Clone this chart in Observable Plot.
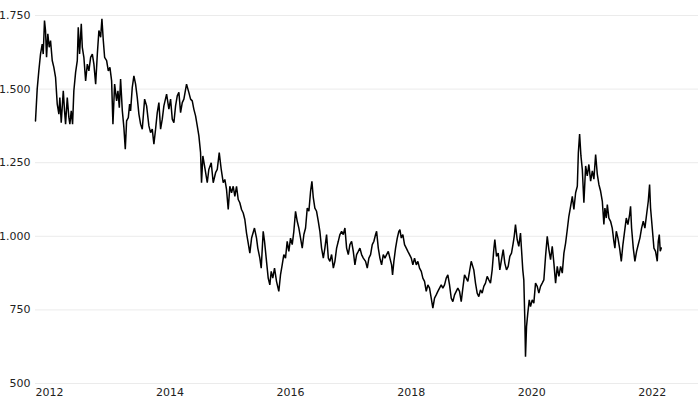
<!DOCTYPE html>
<html>
<head>
<meta charset="utf-8">
<script src="https://cdn.jsdelivr.net/npm/d3@7"></script>
<script src="https://cdn.jsdelivr.net/npm/@observablehq/plot@0.6"></script>
<style>
  html, body { margin: 0; padding: 0; background: #fff; }
  #chart { width: 700px; height: 400px; }
</style>
</head>
<body>
<div id="chart"></div>
<script>
// Decimal years
const years = [
2012.000,2012.028,2012.055,2012.083,2012.111,2012.128,2012.149,2012.166,2012.183,2012.204,
2012.227,2012.249,2012.277,2012.304,2012.332,2012.360,2012.387,2012.403,2012.426,2012.460,
2012.481,2012.498,2012.526,2012.553,2012.569,2012.592,2012.614,2012.635,2012.664,2012.692,
2012.708,2012.730,2012.758,2012.775,2012.801,2012.830,2012.858,2012.884,2012.913,2012.941,
2012.967,2012.996,2013.024,2013.050,2013.079,2013.100,2013.123,2013.145,2013.178,2013.206,
2013.233,2013.261,2013.283,2013.311,2013.344,2013.366,2013.389,2013.410,2013.439,2013.465,
2013.488,2013.510,2013.538,2013.560,2013.576,2013.604,2013.631,2013.659,2013.687,2013.714,
2013.742,2013.770,2013.809,2013.842,2013.880,2013.908,2013.936,2013.963,2013.991,2014.019,
2014.046,2014.074,2014.102,2014.129,2014.174,2014.212,2014.240,2014.268,2014.295,2014.323,
2014.351,2014.378,2014.406,2014.434,2014.461,2014.505,2014.543,2014.572,2014.600,2014.626,
2014.655,2014.683,2014.710,2014.738,2014.754,2014.776,2014.804,2014.849,2014.875,2014.915,
2014.948,2014.987,2015.015,2015.048,2015.081,2015.114,2015.141,2015.169,2015.197,2015.224,
2015.252,2015.280,2015.307,2015.335,2015.363,2015.390,2015.418,2015.446,2015.473,2015.501,
2015.529,2015.556,2015.585,2015.633,2015.667,2015.688,2015.722,2015.745,2015.778,2015.800,
2015.833,2015.861,2015.888,2015.911,2015.937,2015.966,2015.999,2016.037,2016.065,2016.093,
2016.120,2016.148,2016.176,2016.203,2016.231,2016.259,2016.286,2016.314,2016.342,2016.369,
2016.397,2016.425,2016.452,2016.480,2016.508,2016.535,2016.563,2016.585,2016.608,2016.634,
2016.662,2016.691,2016.717,2016.745,2016.774,2016.800,2016.828,2016.857,2016.883,2016.911,
2016.940,2016.966,2016.994,2017.022,2017.049,2017.077,2017.105,2017.132,2017.160,2017.188,
2017.215,2017.243,2017.271,2017.298,2017.326,2017.354,2017.381,2017.409,2017.437,2017.475,
2017.503,2017.530,2017.558,2017.586,2017.613,2017.641,2017.658,2017.686,2017.713,2017.741,
2017.769,2017.796,2017.824,2017.852,2017.879,2017.907,2017.923,2017.945,2017.973,2018.001,
2018.028,2018.045,2018.068,2018.094,2018.122,2018.151,2018.177,2018.205,2018.234,2018.260,
2018.288,2018.317,2018.343,2018.371,2018.400,2018.426,2018.454,2018.482,2018.509,2018.537,
2018.565,2018.592,2018.620,2018.648,2018.675,2018.703,2018.731,2018.758,2018.786,2018.814,
2018.841,2018.869,2018.897,2018.924,2018.952,2018.980,2019.007,2019.035,2019.063,2019.090,
2019.118,2019.146,2019.173,2019.201,2019.229,2019.272,2019.300,2019.328,2019.355,2019.383,
2019.411,2019.438,2019.466,2019.494,2019.521,2019.549,2019.577,2019.604,2019.621,2019.649,
2019.677,2019.704,2019.732,2019.760,2019.787,2019.815,2019.843,2019.870,2019.898,2019.926,
2019.943,2019.964,2019.992,2020.019,2020.047,2020.064,2020.085,2020.102,2020.119,2020.130,
2020.147,2020.168,2020.192,2020.213,2020.241,2020.268,2020.296,2020.324,2020.351,2020.379,
2020.407,2020.434,2020.462,2020.490,2020.517,2020.545,2020.573,2020.600,2020.628,2020.656,
2020.683,2020.711,2020.739,2020.766,2020.794,2020.822,2020.848,2020.877,2020.905,2020.931,
2020.960,2020.988,2021.005,2021.026,2021.048,2021.071,2021.097,2021.126,2021.153,2021.180,
2021.209,2021.237,2021.263,2021.292,2021.320,2021.346,2021.375,2021.403,2021.429,2021.446,
2021.469,2021.486,2021.512,2021.540,2021.568,2021.595,2021.612,2021.635,2021.662,2021.690,
2021.718,2021.745,2021.773,2021.801,2021.828,2021.856,2021.872,2021.889,2021.917,2021.944,
2021.972,2022.000,2022.027,2022.055,2022.083,2022.110,2022.138,2022.166,2022.188,2022.204,
2022.232,2022.260,2022.287,2022.315,2022.332,2022.349,2022.365,2022.382
];

// Prices
const prices = [
1392,1500,1562,1619,1653,1619,1733,1699,1608,1688,
1642,1665,1597,1574,1540,1449,1415,1471,1386,1494,
1426,1381,1471,1403,1381,1426,1381,1494,1557,1597,
1710,1619,1722,1642,1608,1528,1585,1562,1608,1619,
1585,1517,1619,1699,1676,1739,1665,1608,1597,1562,
1574,1528,1381,1517,1460,1494,1437,1534,1426,1369,
1296,1392,1403,1449,1426,1506,1545,1517,1471,1415,
1381,1364,1466,1443,1375,1352,1364,1313,1364,1420,
1454,1364,1398,1443,1483,1432,1466,1398,1386,1443,
1477,1489,1420,1454,1466,1517,1489,1466,1460,1432,
1409,1375,1341,1284,1182,1273,1239,1182,1227,1250,
1182,1216,1227,1284,1227,1182,1193,1159,1091,1170,
1148,1170,1136,1170,1125,1114,1091,1079,1057,1011,
977,943,994,1028,994,960,926,892,1017,983,
915,858,835,881,858,892,847,813,869,903,
938,926,983,949,994,972,1017,1085,1051,1028,
994,960,1006,1028,1096,1085,1153,1187,1131,1096,
1085,1051,1017,960,926,960,1006,926,915,938,
892,915,960,983,1006,1017,1006,1028,960,938,
972,983,949,903,938,949,960,938,926,915,
892,926,938,972,983,1006,1017,960,926,903,
938,926,938,949,926,903,869,915,960,994,
1017,1023,994,1006,972,960,949,938,926,903,
926,903,915,892,881,858,847,813,835,824,
790,756,790,801,813,824,835,824,835,858,
869,835,790,778,801,813,824,813,778,824,
869,858,847,881,915,886,841,807,795,818,
807,830,841,864,852,841,886,955,989,932,
943,886,921,955,909,886,898,932,943,977,
1000,1040,989,966,1011,955,886,852,716,591,
693,739,784,761,784,773,841,830,807,830,
841,852,932,1000,955,921,966,909,841,898,
864,898,875,943,977,1023,1068,1102,1136,1091,
1148,1170,1284,1347,1273,1227,1114,1239,1205,1244,
1187,1222,1194,1278,1210,1176,1153,1119,1040,1096,
1062,1108,1062,1051,1028,983,960,1017,994,960,
915,972,1017,1062,1040,1074,1102,1028,960,915,
949,972,994,1028,1051,1028,1074,1119,1176,1096,
1028,960,949,915,983,1006,949,960
];

const yTicks = [500, 750, 1000, 1250, 1500, 1750];
const xTickYears = [2012, 2014, 2016, 2018, 2020, 2022];
const xDomainYears = [2012, 2023];

function yearToDate(y) {
  const yr = Math.floor(y);
  const start = Date.UTC(yr, 0, 1);
  const end = Date.UTC(yr + 1, 0, 1);
  return new Date(start + (y - yr) * (end - start));
}

const data = years.map((y, i) => ({date: yearToDate(y), value: prices[i]}));

const de = d3.formatLocale({decimal: ",", thousands: ".", grouping: [3], currency: ["", " €"]});
const fmt = de.format(",d");

const chart = Plot.plot({
  width: 700,
  height: 400,
  marginLeft: 35,
  marginRight: 2,
  marginTop: 15,
  marginBottom: 17,
  style: {fontFamily: "DejaVu Sans, sans-serif", fontSize: "11px", color: "#222", background: "#fff"},
  x: {type: "utc", domain: xDomainYears.map(yearToDate), label: null},
  y: {domain: [500, 1750], label: null},
  marks: [
    Plot.gridY(yTicks, {stroke: "#ebebeb", strokeOpacity: 1}),
    Plot.axisY(yTicks, {tickSize: 0, tickPadding: 5, tickFormat: fmt, label: null}),
    Plot.axisX(xTickYears.map(yearToDate), {tickSize: 0, tickPadding: 5, textAnchor: "start", tickFormat: d3.utcFormat("%Y"), label: null}),
    Plot.line(data, {x: "date", y: "value", stroke: "#000", strokeWidth: 1.5, strokeLinejoin: "miter"})
  ]
});

document.getElementById("chart").appendChild(chart);
</script>
</body>
</html>
